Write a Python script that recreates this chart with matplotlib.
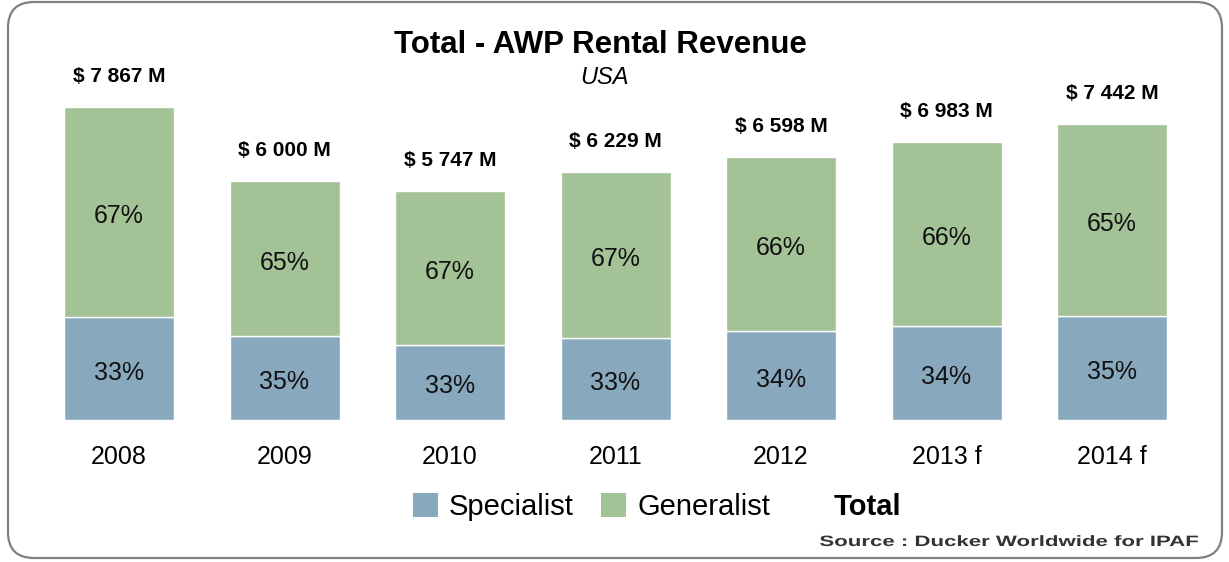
import matplotlib
matplotlib.use("Agg")
import matplotlib.pyplot as plt
import numpy as np
from matplotlib.patches import FancyBboxPatch, Patch, PathPatch
from matplotlib.textpath import TextPath
from matplotlib.font_manager import FontProperties
from matplotlib.transforms import Affine2D, IdentityTransform

plt.rcParams["font.family"] = ["Liberation Sans", "DejaVu Sans"]

YEARS = ["2008", "2009", "2010", "2011", "2012", "2013 f", "2014 f"]
TOTAL_M = [7867, 6000, 5747, 6229, 6598, 6983, 7442]        # $ million
SPECIALIST_PCT = [33, 35, 33, 33, 34, 34, 35]
GENERALIST_PCT = [67, 65, 67, 67, 66, 66, 65]

C_SPEC = "#87a8bd"
C_GEN = "#a3c296"

total = np.array(TOTAL_M, dtype=float)
spec = total * np.array(SPECIALIST_PCT) / 100
gen = total * np.array(GENERALIST_PCT) / 100
x = np.arange(len(YEARS))

W, H = 1229, 562
fig = plt.figure(figsize=(W / 100, H / 100), dpi=100)

# outer rounded frame
frame = FancyBboxPatch((0.08, 0.04), 12.14, 5.56,
                       boxstyle="round,pad=0,rounding_size=0.26",
                       transform=fig.dpi_scale_trans, facecolor="white",
                       edgecolor="#808080", linewidth=1.6, zorder=0)
fig.add_artist(frame)

# axes: baseline at y=420 px, 165.5 px per category
px_per_m = 313 / 7867
ax_left, ax_w = 36.25, 7 * 165.5
ax_bottom, ax_h = H - 420, 360
ax = fig.add_axes([ax_left / W, ax_bottom / H, ax_w / W, ax_h / H])
ax.set_facecolor("none")
ax.set_xlim(-0.5, 6.5)
ax.set_ylim(0, ax_h / px_per_m)

bw = 110 / 165.5
ax.bar(x, spec, bw, color=C_SPEC, edgecolor="white", linewidth=1.0, label="Specialist")
ax.bar(x, gen, bw, bottom=spec, color=C_GEN, edgecolor="white", linewidth=1.0, label="Generalist")

for i in range(len(x)):
    ax.annotate(f"{SPECIALIST_PCT[i]}%", (x[i], spec[i] / 2), xytext=(0, -3),
                textcoords="offset points", ha="center", va="center",
                fontsize=18, color="#111111")
    ax.annotate(f"{GENERALIST_PCT[i]}%", (x[i], spec[i] + gen[i] / 2), xytext=(0, -3),
                textcoords="offset points", ha="center", va="center",
                fontsize=18, color="#111111")
    lbl = "$ " + f"{TOTAL_M[i]:,}".replace(",", " ") + " M"
    ax.annotate(lbl, (x[i], total[i]), xytext=(0, 22), textcoords="offset points",
                ha="center", va="center", fontsize=15, fontweight="bold")

ax.set_xticks(x)
ax.set_xticklabels(YEARS, fontsize=18)
ax.tick_params(axis="x", length=0, pad=18)
ax.set_yticks([])
for s in ax.spines.values():
    s.set_visible(False)

fig.text(600 / W, 1 - 45 / H, "Total - AWP Rental Revenue", ha="center", va="center",
         fontsize=22.5, fontweight="bold")
fig.text(604 / W, 1 - 78 / H, "USA", ha="center", va="center", fontsize=17, style="italic")

handles = [Patch(facecolor=C_SPEC, edgecolor="none"),
           Patch(facecolor=C_GEN, edgecolor="none"),
           Patch(facecolor="none", edgecolor="none")]
leg = fig.legend(handles, ["Specialist", "Generalist", "Total"], ncol=3,
                 loc="center", bbox_to_anchor=(657 / W, 1 - 507 / H),
                 frameon=False, fontsize=21, handlelength=0.85, handleheight=0.85,
                 handletextpad=0.38, columnspacing=0.95, borderpad=0)
leg.get_texts()[2].set_fontweight("bold")

# source note: wide, letter-spaced look -> stretch a text path horizontally
src = "Source : Ducker Worldwide for IPAF"
tp = TextPath((0, 0), src, size=15,
              prop=FontProperties(family="Liberation Sans", weight="bold"))
ext = tp.get_extents()
sx = 378 / ext.width
src_tr = Affine2D().translate(-ext.x0, 0).scale(sx, 1).translate(820, H - 546)
fig.add_artist(PathPatch(tp, transform=src_tr + IdentityTransform(),
                         facecolor="#333333", edgecolor="none"))

fig.savefig("out.png", dpi=100)
